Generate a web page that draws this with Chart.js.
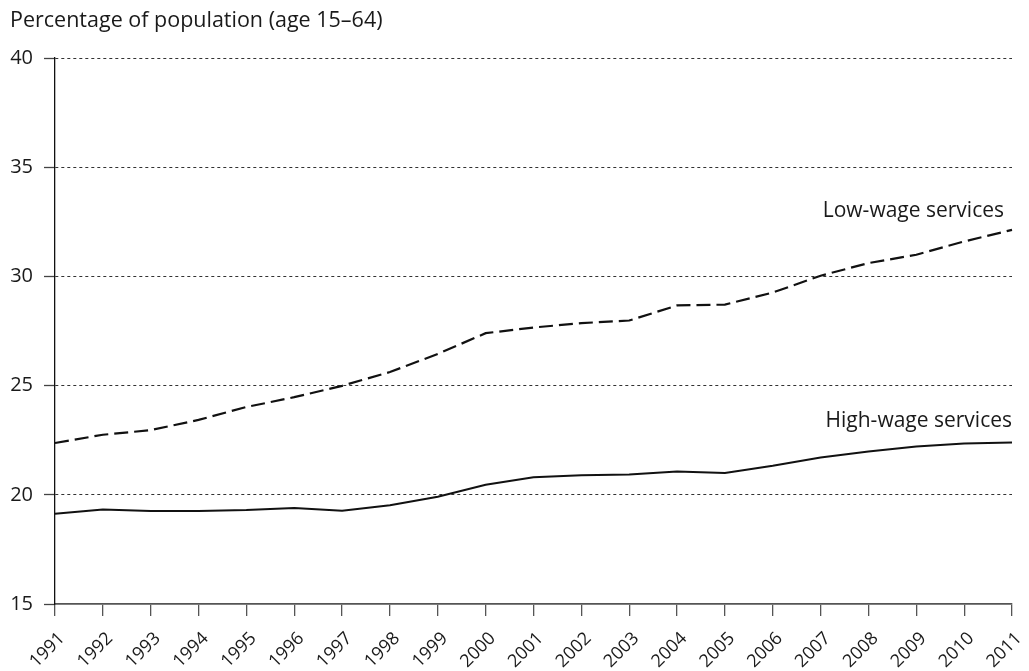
<!DOCTYPE html>
<html><head><meta charset="utf-8">
<script src="https://cdn.jsdelivr.net/npm/chart.js@4"></script>
<style>html,body{margin:0;padding:0;background:#fff}#wrap{width:1029px;height:671px}</style>
</head><body><div id="wrap"><canvas id="c" width="1029" height="671"></canvas></div>
<script>
const years = ['1991','1992','1993','1994','1995','1996','1997','1998','1999','2000','2001','2002','2003','2004','2005','2006','2007','2008','2009','2010','2011'];
const lowWage = [22.37, 22.75, 22.96, 23.43, 24.02, 24.47, 24.99, 25.62, 26.45, 27.40, 27.66, 27.86, 27.98, 28.67, 28.71, 29.26, 30.03, 30.61, 30.99, 31.60, 32.13];
const highWage = [19.13, 19.33, 19.26, 19.26, 19.30, 19.39, 19.27, 19.52, 19.91, 20.46, 20.80, 20.90, 20.93, 21.07, 21.00, 21.33, 21.71, 21.98, 22.21, 22.35, 22.40];
const yTicks = [15, 20, 25, 30, 35, 40];
const axisTitle = 'Percentage of population (age 15–64)';
const lowLabel = 'Low-wage services';
const highLabel = 'High-wage services';

const FONT = '"Open Sans", "Noto Sans", sans-serif';

const textPlugin = {
  id: 'texts',
  afterDraw(chart) {
    const ctx = chart.ctx;
    const xs = chart.scales.x, ys = chart.scales.y;
    ctx.save();
    ctx.fillStyle = '#1a1a1a';
    ctx.textBaseline = 'middle';
    ctx.textAlign = 'left';
    ctx.font = '21.5px ' + FONT;
    ctx.fillText(axisTitle, 10, 21);
    ctx.font = '21px ' + FONT;
    const last = years.length - 1;
    const xr = xs.getPixelForValue(last);
    ctx.textAlign = 'right';
    ctx.fillText(lowLabel, xr - 8, ys.getPixelForValue(lowWage[last]) - 19);
    ctx.fillText(highLabel, xr, ys.getPixelForValue(highWage[last]) - 21);
    ctx.restore();
  }
};

new Chart(document.getElementById('c'), {
  type: 'line',
  data: {
    labels: years,
    datasets: [
      { label: lowLabel, data: lowWage, borderColor: '#111', borderWidth: 2.2, borderDash: [14, 6], pointRadius: 0, tension: 0, fill: false },
      { label: highLabel, data: highWage, borderColor: '#111', borderWidth: 2, pointRadius: 0, tension: 0, fill: false }
    ]
  },
  options: {
    responsive: false,
    animation: false,
    layout: { padding: { left: 0, top: 58, right: 17, bottom: 0 } },
    plugins: { legend: { display: false }, tooltip: { enabled: false }, title: { display: false } },
    scales: {
      x: {
        type: 'category',
        offset: false,
        grid: { drawOnChartArea: false, tickLength: 12, color: '#555', lineWidth: 1.3 },
        border: { display: true, color: '#555', width: 1.7 },
        ticks: { autoSkip: false, minRotation: 45, maxRotation: 45, color: '#1a1a1a', font: { family: FONT, size: 18 }, padding: 12, labelOffset: 7 },
        afterFit(s) { s.height = 67; s.paddingRight = 0; s.paddingLeft = 0; }
      },
      y: {
        min: 15, max: 40,
        afterBuildTicks(s) { s.ticks = yTicks.map(v => ({ value: v })); },
        grid: {
          color: (c) => (c.tick && c.tick.value === 15) ? 'rgba(0,0,0,0)' : '#333',
          lineWidth: 1, tickLength: 11, tickColor: '#444', tickWidth: 1.3, tickBorderDash: []
        },
        border: { display: true, color: '#111', width: 1.3, dash: [3, 3] },
        ticks: { color: '#1a1a1a', font: { family: FONT, size: 20 }, padding: 11 },
        afterFit(s) { s.width = 55; }
      }
    }
  },
  plugins: [textPlugin]
});
</script></body></html>
